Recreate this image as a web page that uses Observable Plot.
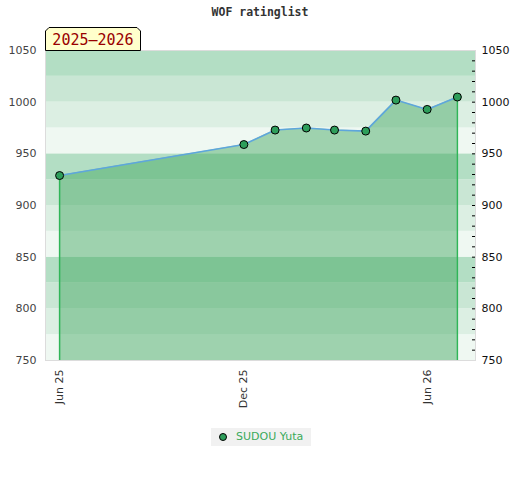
<!DOCTYPE html>
<html>
<head>
<meta charset="utf-8">
<script src="https://cdn.jsdelivr.net/npm/d3@7"></script>
<script src="https://cdn.jsdelivr.net/npm/@observablehq/plot@0.6"></script>
<style>
  body { margin: 0; background: #fff; }
  #wrap { position: relative; width: 520px; height: 480px; font-family: "DejaVu Sans", sans-serif; }
  #title { position: absolute; left: 0; top: 5px; width: 520px; text-align: center;
    font: bold 11.5px "DejaVu Sans Mono", monospace; color: #333; }
  #season { position: absolute; left: 45px; top: 27px; }
  #legend { position: absolute; left: 211px; top: 428px; width: 100px; height: 18px; background: #f1f1f1;
    font: 11px "DejaVu Sans", sans-serif; color: #3aaa5a; }
  #legend svg { position: absolute; left: 0; top: 0; }
  #legend span { position: absolute; left: 25px; top: 2px; }
</style>
</head>
<body>
<div id="wrap">
  <div id="chart"></div>
  <div id="title">WOF ratinglist</div>
  <svg id="season" width="97" height="24">
    <polygon points="0.5,4 4,0.5 92,0.5 95.5,4 95.5,23.5 0.5,23.5" fill="#ffffcc" stroke="#000" stroke-width="1"/>
    <text x="48" y="18" text-anchor="middle" font-family="DejaVu Sans Mono, monospace" font-size="15" fill="#990000">2025–2026</text>
  </svg>
  <div id="legend">
    <svg width="20" height="18"><circle cx="12" cy="9" r="3.5" fill="#2e9e5b" stroke="#000" stroke-width="1"/></svg>
    <span>SUDOU Yuta</span>
  </div>
</div>
<script>
const dates = ["2025-06-01","2025-12-01","2026-01-01","2026-02-01","2026-03-01","2026-04-01","2026-05-01","2026-06-01","2026-07-01"];
const ratings = [929, 959, 973, 975, 973, 972, 1002, 993, 1005];
const xTicks = ["2025-06-01","2025-12-01","2026-06-01"];
const yLabels = [750, 800, 850, 900, 950, 1000, 1050];
const yMinor = [760,770,780,790,800,810,820,830,840,850,860,870,880,890,900,910,920,930,940,950,960,970,980,990,1000,1010,1020,1030,1040];
const bandLow = [750,775,800,825,850,875,900,925,950,975,1000,1025];
const bandColors = ["#eff8f2","#dcefe3","#c9e6d4","#b3dec4","#eff8f2","#dcefe3","#c9e6d4","#b3dec4","#eff8f2","#dcefe3","#c9e6d4","#b3dec4"];

const parse = d3.utcParse("%Y-%m-%d");
const data = dates.map((d, i) => ({date: parse(d), rating: ratings[i]}));
const bands = bandLow.map((v, i) => ({y1: v, y2: v + 25, fill: bandColors[i]}));
const ends = [data[0], data[data.length - 1]];
const yMin = 750;

const plot = Plot.plot({
  width: 520,
  height: 480,
  marginTop: 50,
  marginBottom: 120,
  marginLeft: 45,
  marginRight: 45,
  style: {fontFamily: "DejaVu Sans, sans-serif", fontSize: "11px", color: "#444", background: "transparent"},
  x: {type: "utc", domain: [parse("2025-05-18"), parse("2026-07-19")]},
  y: {domain: [750, 1050]},
  marks: [
    Plot.rect(bands, {y1: "y1", y2: "y2", fill: "fill"}),
    Plot.areaY(data, {x: "date", y1: yMin, y2: "rating", fill: "#3ba45b", fillOpacity: 0.45}),
    Plot.ruleX(ends, {x: "date", y1: yMin, y2: "rating", stroke: "#30b558", strokeWidth: 1.5}),
    Plot.line(data, {x: "date", y: "rating", stroke: "#5ea6dc", strokeWidth: 1.6}),
    Plot.dot(data, {x: "date", y: "rating", r: 4, fill: "#2e9e5b", stroke: "#000", strokeWidth: 1}),
    Plot.frame({stroke: "#dcdcdc"}),
    Plot.axisY({anchor: "left", ticks: yLabels, tickFormat: "d", tickSize: 0, tickPadding: 9, fill: "#444", label: null}),
    Plot.axisY({anchor: "right", ticks: yLabels, tickFormat: "d", tickSize: 0, tickPadding: 6, fill: "#111", label: null}),
    Plot.axisY({anchor: "right", ticks: yMinor, tickSize: 3, dx: -4, tickFormat: () => "", stroke: "#000", label: null}),
    Plot.axisX({ticks: xTicks.map(parse), tickFormat: d3.utcFormat("%b %y"), tickRotate: -90, tickSize: 0, tickPadding: 9, fill: "#333", label: null})
  ]
});
document.getElementById("chart").appendChild(plot);
</script>
</body>
</html>
